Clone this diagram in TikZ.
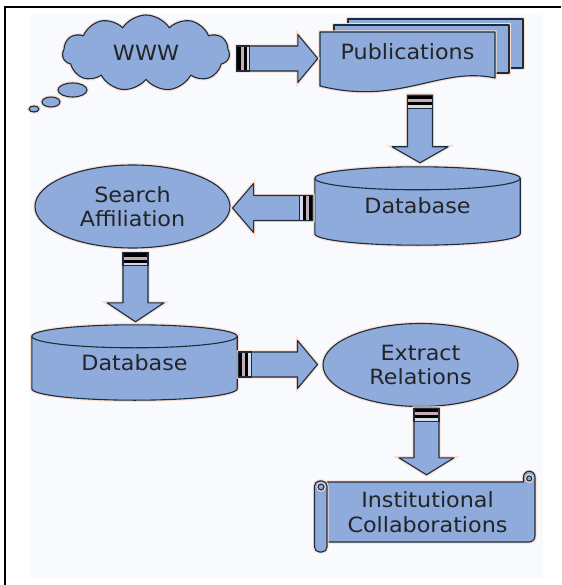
\documentclass[tikz,border=0pt]{standalone}
\usepackage{fontspec}
\newfontfamily\diagfont[FakeStretch=1.06]{DejaVu Sans}
\usetikzlibrary{shapes.geometric,shapes.symbols,calc}

\definecolor{boxfill}{RGB}{142,171,219}
\definecolor{boxline}{RGB}{28,46,62}
\definecolor{halo}{RGB}{250,220,206}
\definecolor{labelink}{RGB}{36,36,40}
\definecolor{paper}{RGB}{248,250,254}
\definecolor{stripeA}{RGB}{196,172,184}
\definecolor{stripeB}{RGB}{214,218,232}

\pgfdeclarelayer{paperlayer}
\pgfdeclarelayer{shapelayer}
\pgfsetlayers{paperlayer,shapelayer,main}

\tikzset{
  body/.style={draw=boxline, fill=boxfill, line width=1.1pt, line join=round,
    preaction={draw=halo, line width=3.4pt}},
  lbltext/.style={font=\diagfont\fontsize{21}{24.5}\selectfont, text=labelink,
    align=center, inner sep=0pt},
  inner line/.style={draw=boxline, line width=1.1pt},
}

% block arrow from #1 (tail) to #2 (tip); #3 = head half width, #4 = head length
\newcommand\blockarrow[4]{%
  \path #1 coordinate (arrS) #2 coordinate (arrE);
  \pgfpointdiff{\pgfpointanchor{arrS}{center}}{\pgfpointanchor{arrE}{center}}%
  \pgfgetlastxy{\arrDX}{\arrDY}%
  \pgfmathsetmacro\arrLen{veclen(\arrDX,\arrDY)}%
  \pgfmathsetmacro\arrAng{atan2(\arrDY,\arrDX)}%
  \begin{scope}[shift={(arrS)}, rotate=\arrAng]
    \path[body] (0,12.5) -- ({\arrLen-#4},12.5) -- ({\arrLen-#4},#3) -- (\arrLen,0)
      -- ({\arrLen-#4},-#3) -- ({\arrLen-#4},-12.5) -- (0,-12.5) -- cycle;
    \fill[black] (0,-12.5) rectangle (4,12.5);
    \fill[stripeA] (4,-12.5) rectangle (7,12.5);
    \fill[black] (7,-12.5) rectangle (10,12.5);
    \fill[stripeB] (10,-12.5) rectangle (13,12.5);
    \draw[boxline, line width=1.1pt] (0,-12.5) rectangle (13,12.5);
  \end{scope}}

% database drum drawn round a (borderless) node
\newcommand\dbdrum[1]{%
  \begin{pgfonlayer}{shapelayer}
    \path[body] let \p1=(#1.north west), \p2=(#1.south east), \n1={(\x2-\x1)/2} in
      (\x1,\y1-11.5pt) -- (\x1,\y2+11.5pt)
      arc[start angle=180, end angle=360, x radius=\n1, y radius=11.5pt]
      -- (\x2,\y1-11.5pt)
      arc[start angle=0, end angle=180, x radius=\n1, y radius=11.5pt] -- cycle;
    \path[inner line] let \p1=(#1.north west), \p2=(#1.south east), \n1={(\x2-\x1)/2} in
      (\x1,\y1-11.5pt) arc[start angle=180, end angle=360, x radius=\n1, y radius=11.5pt];
  \end{pgfonlayer}}

\begin{document}
\begin{tikzpicture}[x=1pt, y=1pt]
\useasboundingbox (0,0) rectangle (561,-585);

\begin{pgfonlayer}{paperlayer}
  \fill[paper] (30,-15) rectangle (543,-578);
\end{pgfonlayer}

% frame
\draw[black, line width=2.6pt] (5,-585) -- (5,-7) -- (561,-7);

% cloud with thought bubbles
\node[cloud, cloud puffs=11, cloud puff arc=115, aspect=2.2, body, lbltext,
      minimum width=167pt, minimum height=76pt] (www) at (146,-53) {WWW};
\begin{scope}[shift={(www.center)}]
  \path[body] (-73.5,-37) ellipse [x radius=14.5, y radius=7];
  \path[body] (-95,-49) ellipse [x radius=9, y radius=5];
  \path[body] (-112,-56) ellipse [x radius=5, y radius=3];
\end{scope}

% stacked documents
\node[lbltext, minimum width=175pt, minimum height=40pt] (pub) at (407.5,-52) {Publications};
\begin{pgfonlayer}{shapelayer}
\begin{scope}[shift={(pub.center)}]
  \path[body] (-59.5,33) rectangle (115.5,-16);
  \path[body] (-73.5,27) rectangle (101.5,-21);
  \path[body] (-87.5,20) -- (87.5,20) -- (87.5,-26)
    .. controls (32.5,-14) and (-7.5,-54) .. (-87.5,-34) -- cycle;
\end{scope}
\end{pgfonlayer}

% databases
\node[lbltext, minimum width=205pt, minimum height=78pt] (db1) at (417.5,-206) {Database};
\dbdrum{db1}
\node[lbltext, minimum width=205pt, minimum height=75pt] (db2) at (134.5,-362.5) {Database};
\dbdrum{db2}

% processes
\node[ellipse, body, lbltext, minimum width=195pt, minimum height=83pt] (sa)
  at (132.5,-206.5) {Search\\Affiliation};
\node[ellipse, body, lbltext, minimum width=195pt, minimum height=83pt] (er)
  at (420.5,-365) {Extract\\Relations};

% result scroll
\node[lbltext, minimum width=215pt, minimum height=60pt] (coll) at (427.5,-512)
  {Institutional\\Collaborations};
\begin{pgfonlayer}{shapelayer}
\begin{scope}[shift={(coll.center)}]
  \path[body] (-100,30) -- (96,30) -- (96,35)
    arc[start angle=180, end angle=0, radius=5.75] -- (107.5,-24)
    arc[start angle=0, end angle=-90, radius=6] -- (-100,-30) -- cycle;
  \path[body] (101.75,33.5) circle (2.6);
  \path[body, rounded corners=5] (-113,31) rectangle (-100.5,-40);
  \path[body] (-106.5,25) circle (3);
\end{scope}
\end{pgfonlayer}

% flow arrows
\blockarrow{($(www.east)+(7,-5.5)$)}{($(pub.west)+(-2,-6.5)$)}{24}{20}
\blockarrow{($(pub.south)+(12.5,-23)$)}{($(db1.north)+(2.5,4)$)}{28}{16}
\blockarrow{($(db1.west)+(-2,-2)$)}{($(sa.east)+(2,-1.5)$)}{24.5}{21}
\blockarrow{($(sa.south)+(3,-4)$)}{($(db2.north)+(1,3)$)}{28.5}{19}
\blockarrow{($(db2.east)+(1,-2)$)}{($(er.west)+(-5,0.5)$)}{24}{20}
\blockarrow{($(er.south)+(6,-1)$)}{($(coll.north)+(-1,7)$)}{27.5}{17}
\end{tikzpicture}
\end{document}
